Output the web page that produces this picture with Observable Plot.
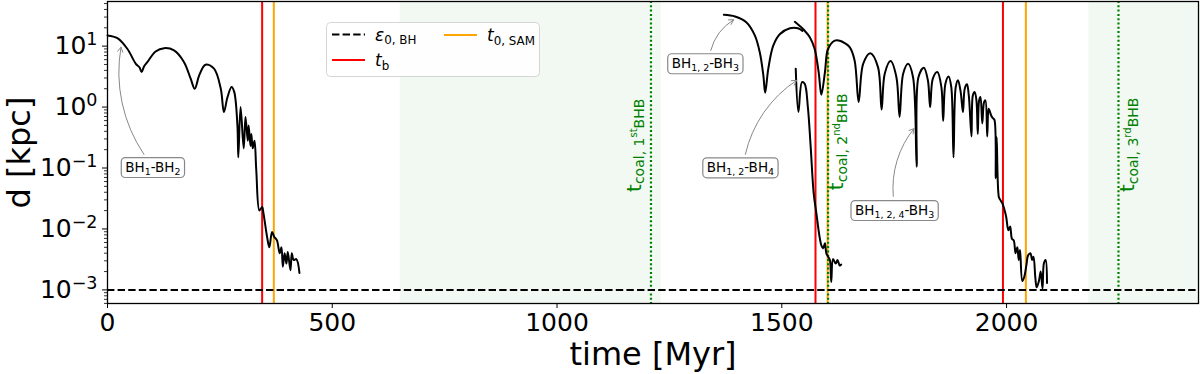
<!DOCTYPE html>
<html><head><meta charset="utf-8">
<script src="https://cdn.jsdelivr.net/npm/d3@7"></script>
<script src="https://cdn.jsdelivr.net/npm/@observablehq/plot@0.6"></script>
<style>
body{margin:0;background:#fff;font-family:"DejaVu Sans",sans-serif;}
#wrap{position:relative;width:1200px;height:374px;}
#legend{position:absolute;left:326px;top:22px;}
</style></head><body><div id="wrap"></div>
<script>
// ---------- data (time in Myr, separation d in kpc) ----------
const bh12T = [0,22,44,63,71,76,81,89,107,126,148,170,185,194,204,218,237,252,259,267,276,282,289,291,296,303,307,312,314,318,320,323,327,331,338,344,347,355,360,366,371,377,383,387,390,394,398,401,407,410,414,420,427];
const bh12D = [15.0,13.5,9.06,5.13,4.5,3.75,4.6,5.5,8.18,9.27,8.51,5.5,2.92,2.0,3.31,4.95,4.27,2.0,0.83,1.46,2.13,1.76,0.50,0.15,1.0,0.21,0.69,0.28,0.50,0.23,0.36,0.21,0.28,0.091,0.020,0.023,0.018,0.0074,0.0050,0.0089,0.0074,0.0065,0.0040,0.0050,0.0024,0.0040,0.0027,0.0042,0.0021,0.0040,0.0031,0.0032,0.0019];

const bh12_3T = [1371,1396,1421,1440,1451,1459,1463,1470,1481,1496,1518,1536,1546];
const bh12_3D = [32.7,30.7,24.7,15.0,7.94,3.31,1.72,4.27,10.2,15.8,19.7,19.7,17.8];

const bh12_4T = [1531,1537,1545,1551,1558,1564,1571,1577,1583,1588,1592,1596,1599,1603,1607,1610,1614,1620,1624,1629,1632];
const bh12_4D = [4.27,0.83,2.57,2.40,1.0,0.24,0.038,0.018,0.0083,0.0054,0.0048,0.0058,0.0040,0.0035,0.0031,0.00135,0.0032,0.0027,0.0031,0.0025,0.0026];

const bh124_3T = [1529,1540,1550,1562,1573,1582,1588,1596,1603,1618,1629,1640,1651,1662,1671,1681,1697,1714,1722,1729,1742,1755,1762,1770,1781,1792,1800,1804,1816,1825,1830,1836,1846,1855,1859,1864,1871,1877,1882,1887,1892,1898,1903,1907,1912,1916,1922,1925,1929,1933,1936,1939,1942,1946,1950,1953,1957,1960,1962,1966,1970,1973,1976,1978,1983,1986,1991,1999,2004,2008,2012,2016,2020,2024,2027,2030,2035,2039,2044,2048,2053,2057,2060,2064,2067,2072,2076,2080,2083,2087,2090];
const bh124_3D = [25.1,21.4,18.2,14.1,9.06,3.75,1.60,3.75,9.06,12.3,12.3,11.2,9.64,5.83,1.21,5.13,7.67,4.53,0.91,3.53,5.68,3.09,0.69,3.53,5.13,3.09,0.105,3.09,4.43,2.75,1.0,2.92,3.75,2.14,0.59,2.42,3.18,2.14,0.15,2.14,2.75,1.76,0.83,2.0,2.36,1.55,0.33,1.55,1.76,1.29,0.36,1.29,1.46,0.54,1.21,1.29,0.33,0.94,0.88,0.72,0.65,0.62,0.068,0.32,0.033,0.030,0.026,0.016,0.0095,0.011,0.0069,0.0065,0.0040,0.0050,0.0031,0.0045,0.0014,0.0016,0.0025,0.0037,0.0040,0.0031,0.0035,0.0016,0.0011,0.0014,0.0020,0.00105,0.0027,0.0031,0.0013];

const tB = [344, 1575, 1992];          // t_b
const t0SAM = [370, 1602, 2043];       // t_0,SAM
const tCoal = [1209, 1603, 2249];      // t_coal
const coalOrd = ["st", "nd", "rd"];
const coalNum = ["1", "2", "3"];
const coalLabelT = [1172, 1623, 2270];
const coalLabelD = [0.236, 0.27, 0.24];
const shadeStart = [651, 2183];
const shadeEnd = [1232, 2427];
const eps0BH = 1e-3;

const xTicks = [0, 500, 1000, 1500, 2000];
const yTicks = [1e-3, 1e-2, 1e-1, 1, 10];
const xDomain = [0, 2427];
const yDomain = [5.98e-4, 54];

// annotations: [text, subscript] pieces
const annSegs = [
  [["BH","n"],["1","sub"],["-BH","n"],["2","sub"]],
  [["BH","n"],["1, 2","sub"],["-BH","n"],["3","sub"]],
  [["BH","n"],["1, 2","sub"],["-BH","n"],["4","sub"]],
  [["BH","n"],["1, 2, 4","sub"],["-BH","n"],["3","sub"]]
];
const annT = [101, 1330, 1408, 1751];
const annD = [0.103, 5.2, 0.102, 0.0203];
const tailT = [81, 1342, 1419, 1748];
const tailD = [0.168, 8.5, 0.168, 0.0344];
const tipT = [30, 1393, 1533, 1794];
const tipD = [9.6, 27.1, 2.74, 0.443];

// ---------- build tables ----------
const rows = (name, T, D) => T.map((t, i) => ({s: name, t, d: D[i]}));
const curves = [
  ...rows("BH1-BH2", bh12T, bh12D),
  ...rows("BH12-BH3", bh12_3T, bh12_3D),
  ...rows("BH12-BH4", bh12_4T, bh12_4D),
  ...rows("BH124-BH3", bh124_3T, bh124_3D)
];
const shades = shadeStart.map((a, i) => ({a, b: shadeEnd[i]}));
const annPlain = annSegs.map(s => s.map(p => p[0]).join(""));
const anns = annPlain.map((label, i) => ({label, t: annT[i], d: annD[i], t1: tailT[i], d1: tailD[i], t2: tipT[i], d2: tipD[i]}));
const coalSegs = coalOrd.map((o, i) => [["t","n"],["coal, " + coalNum[i],"csub"],[o,"csup"],["BHB","csub"]]);
const coalPlain = coalSegs.map(s => s.map(p => p[0]).join(""));
const coalRows = coalPlain.map((label, i) => ({label, t: coalLabelT[i], d: coalLabelD[i]}));
const minorTicks = [];
for (let e = -4; e <= 1; e++) for (let m = 2; m <= 9; m++) {
  const v = m * Math.pow(10, e);
  if (v >= yDomain[0] && v <= yDomain[1]) minorTicks.push(v);
}

const chart = Plot.plot({
  width: 1200, height: 374,
  marginLeft: 107, marginRight: 2, marginTop: 1, marginBottom: 71,
  style: {fontFamily: '"DejaVu Sans", sans-serif', fontSize: "25px", color: "black", background: "white"},
  x: {domain: xDomain},
  y: {type: "log", domain: yDomain},
  marks: [
    Plot.rect(shades, {x1: "a", x2: "b", fill: "#f2f9f2"}),
    Plot.ruleX(tB, {stroke: "red", strokeWidth: 2}),
    Plot.ruleX(t0SAM, {stroke: "orange", strokeWidth: 2}),
    Plot.ruleX(tCoal, {stroke: "green", strokeWidth: 2.2, strokeDasharray: "2,2.3"}),
    Plot.ruleY([eps0BH], {stroke: "black", strokeWidth: 2, strokeDasharray: "7.4,3.2"}),
    Plot.line(curves, {x: "t", y: "d", z: "s", stroke: "black", strokeWidth: 2, curve: "catmull-rom"}),
    Plot.arrow(anns, {x1: "t1", y1: "d1", x2: "t2", y2: "d2", bend: 22, stroke: "#888", strokeWidth: 1, headLength: 8}),
    Plot.text(anns, {x: "t", y: "d", text: "label", fontSize: 13.5, fill: "black"}),
    Plot.text(coalRows, {x: "t", y: "d", text: "label", rotate: -90, fontSize: 20, fill: "green"}),
    Plot.axisX({ticks: xTicks, tickSize: 5, tickPadding: 5, fontSize: 25, label: null, tickFormat: d => String(d)}),
    Plot.axisY({ticks: yTicks, tickSize: 5, tickPadding: 5, fontSize: 25, label: null,
      tickFormat: d => "10^" + Math.round(Math.log10(d))}),
    Plot.axisY({ticks: minorTicks, tickSize: 3, tickFormat: () => "", label: null, strokeWidth: 0.8}),
    Plot.text(["time [Myr]"], {text: d => d, frameAnchor: "bottom", lineAnchor: "middle", textAnchor: "middle", dy: 51, fontSize: 32}),
    Plot.text(["d [kpc]"], {text: d => d, frameAnchor: "left", lineAnchor: "middle", textAnchor: "middle", rotate: -90, dx: -88, fontSize: 32}),
    Plot.frame({stroke: "black", strokeWidth: 1.3})
  ]
});
const wrap = document.getElementById("wrap");
wrap.appendChild(chart);

// ---------- rich text (sub/superscripts) ----------
const NS = "http://www.w3.org/2000/svg";
const STY = {
  n: {s: 1, o: 0}, sub: {s: 0.7, o: 0.22}, sup: {s: 0.7, o: -0.36},
  csub: {s: 0.7, o: 0.17}, csup: {s: 0.5, o: -0.18}
};
function rich(el, segs, base) {
  while (el.firstChild) el.removeChild(el.firstChild);
  let cur = 0;
  for (const [txt, k, it] of segs) {
    const st = STY[k];
    const ts = document.createElementNS(NS, "tspan");
    ts.setAttribute("font-size", base * st.s);
    const off = st.o * base;
    if (off !== cur) ts.setAttribute("dy", off - cur);
    cur = off;
    if (it) ts.setAttribute("font-style", "italic");
    ts.textContent = txt;
    el.appendChild(ts);
  }
}
function addBox(el) {
  const bb = el.getBBox();
  const r = document.createElementNS(NS, "rect");
  r.setAttribute("x", bb.x - 4); r.setAttribute("y", bb.y - 1);
  r.setAttribute("width", bb.width + 8); r.setAttribute("height", bb.height + 2);
  r.setAttribute("rx", 4); r.setAttribute("fill", "white");
  r.setAttribute("stroke", "#888"); r.setAttribute("stroke-width", 1.2);
  if (el.getAttribute("transform")) r.setAttribute("transform", el.getAttribute("transform"));
  el.parentNode.insertBefore(r, el);
}
const lookup = new Map();
annPlain.forEach((p, i) => lookup.set(p, {segs: annSegs[i], base: 13.5, box: true}));
coalPlain.forEach((p, i) => lookup.set(p, {segs: coalSegs[i], base: 20, box: false}));
chart.querySelectorAll("text").forEach(el => {
  const s = el.textContent;
  if (lookup.has(s)) {
    const o = lookup.get(s);
    rich(el, o.segs, o.base);
    if (o.box) addBox(el);
  } else if (/^10\^/.test(s)) {
    const ex = s.split("^")[1].replace("-", "\u2212");
    rich(el, [["10", "n"], [ex, "sup"]], 25);
  }
});

// ---------- legend ----------
const leg = d3.select(wrap).append("svg").attr("id", "legend")
  .attr("width", 215).attr("height", 56)
  .style("font-family", '"DejaVu Sans", sans-serif');
leg.append("rect").attr("x", 0.5).attr("y", 0.5).attr("width", 213).attr("height", 54)
  .attr("rx", 4).attr("fill", "rgba(255,255,255,0.8)").attr("stroke", "#d5d5d5");
const legItems = [
  {x: 6, y: 12.5, stroke: "black", dash: "7.4,3.2", segs: [["\u03b5","n",true],["0, BH","sub"]]},
  {x: 6, y: 38, stroke: "red", dash: null, segs: [["t","n",true],["b","sub"]]},
  {x: 118, y: 13, stroke: "orange", dash: null, segs: [["t","n",true],["0, SAM","sub"]]}
];
legItems.forEach(it => {
  leg.append("line").attr("x1", it.x).attr("x2", it.x + 33).attr("y1", it.y).attr("y2", it.y)
    .attr("stroke", it.stroke).attr("stroke-width", 2).attr("stroke-dasharray", it.dash);
  const t = leg.append("text").attr("x", it.x + 43).attr("y", it.y + 6).attr("font-size", 17);
  rich(t.node(), it.segs, 17);
});
</script></body></html>
